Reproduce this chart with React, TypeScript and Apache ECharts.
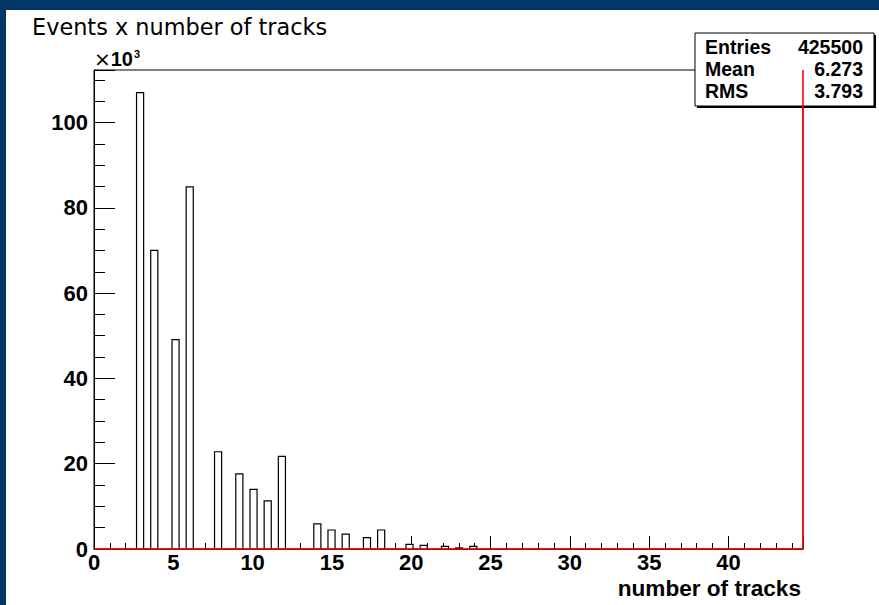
import React, { useEffect, useRef } from "react";
import * as echarts from "echarts";

// ---- data (events in units of 10^3) ----
const TRACKS = [3, 4, 5, 6, 8, 9, 10, 11, 12, 14, 15, 16, 17, 18, 20, 21, 22, 23, 24];
const EVENTS_K = [107, 70, 49.1, 84.9, 22.8, 17.6, 14.0, 11.3, 21.7, 5.9, 4.45, 3.5, 2.65, 4.45, 1.1, 0.85, 0.6, 0.25, 0.6];
const X_MAX = 44.7;
const Y_MAX = 112.3;
const N_BINS = 100;
const BIN_W = X_MAX / N_BINS;
const X_LABELS = [0, 5, 10, 15, 20, 25, 30, 35, 40];
const Y_LABELS = [0, 20, 40, 60, 80, 100];
const STATS_NAMES = ["Entries", "Mean", "RMS"];
const STATS_VALUES = ["425500", "6.273", "3.793"];

const TITLE = "Events x number of tracks";
const X_NAME = "number of tracks";

const BOLD = "Liberation Sans, Arial, sans-serif";

export default function App() {
  const ref = useRef<HTMLDivElement>(null);
  useEffect(() => {
    if (!ref.current) return;
    const chart = echarts.init(ref.current, null, { renderer: "svg" });
    const barData = TRACKS.map((t, i) => [t, EVENTS_K[i]]);

    const statsX = 689;
    const statsY = 23;
    const statsW = 179;
    const statsH = 73;
    const rowY = [14, 36, 58];

    const statsChildren: any[] = [
      { type: "rect", shape: { x: statsX + 2, y: statsY + 2, width: statsW, height: statsH }, style: { fill: "#000" } },
      { type: "rect", shape: { x: statsX, y: statsY, width: statsW, height: statsH }, style: { fill: "#fff", stroke: "#000", lineWidth: 1 } },
    ];
    STATS_NAMES.forEach((n, i) => {
      statsChildren.push({
        type: "text",
        x: statsX + 10,
        y: statsY + rowY[i],
        style: { text: n, fontFamily: BOLD, fontWeight: "bold", fontSize: 19.5, fill: "#000", align: "left", verticalAlign: "middle" },
      });
      statsChildren.push({
        type: "text",
        x: statsX + statsW - 11,
        y: statsY + rowY[i],
        style: { text: STATS_VALUES[i], fontFamily: BOLD, fontWeight: "bold", fontSize: 19.5, fill: "#000", align: "right", verticalAlign: "middle" },
      });
    });

    const labelStyle = { fontFamily: BOLD, fontWeight: "bold" as const, fontSize: 22, color: "#000" };

    chart.setOption({
      animation: false,
      backgroundColor: "#fff",
      title: {
        text: TITLE,
        left: 26,
        top: 6,
        padding: 0,
        textStyle: { fontFamily: "DejaVu Sans", fontSize: 22.4, fontWeight: "normal", color: "#000" },
      },
      grid: { left: 88, right: 76, top: 60, bottom: 56, show: true, borderColor: "#000", borderWidth: 1, backgroundColor: "transparent" },
      xAxis: [
        {
          type: "value",
          min: 0,
          max: X_MAX,
          interval: 1,
          position: "bottom",
          axisLine: { show: true, lineStyle: { color: "#000", width: 1 } },
          axisTick: { show: true, inside: true, length: 6, lineStyle: { color: "#000", width: 1 } },
          axisLabel: {
            ...labelStyle,
            margin: 2,
            showMaxLabel: false,
            formatter: (v: number) => (X_LABELS.indexOf(v) >= 0 ? String(v) : ""),
          },
          splitLine: { show: false },
          name: X_NAME,
          nameLocation: "end",
          nameGap: -2,
          nameTextStyle: { fontFamily: BOLD, fontWeight: "bold", fontSize: 22.6, color: "#000", align: "right", verticalAlign: "top", padding: [28, 0, 0, 0] },
        },
        {
          type: "value",
          min: 0,
          max: X_MAX,
          interval: 5,
          position: "bottom",
          axisLine: { show: false },
          axisTick: { show: true, inside: true, length: 13, lineStyle: { color: "#000", width: 1 } },
          axisLabel: { show: false },
          splitLine: { show: false },
        },
      ],
      yAxis: [
        {
          type: "value",
          min: 0,
          max: Y_MAX,
          interval: 5,
          position: "left",
          axisLine: { show: true, lineStyle: { color: "#000", width: 1 } },
          axisTick: { show: true, inside: true, length: 11, lineStyle: { color: "#000", width: 1 } },
          axisLabel: {
            ...labelStyle,
            margin: 6,
            showMaxLabel: false,
            formatter: (v: number) => (Y_LABELS.indexOf(v) >= 0 ? String(v) : ""),
          },
          splitLine: { show: false },
          name: "{x|×}{b|10}{s|3}",
          nameLocation: "end",
          nameGap: 1,
          nameTextStyle: {
            align: "left",
            verticalAlign: "bottom",
            rich: {
              x: { fontFamily: "DejaVu Sans", fontSize: 20, color: "#000" },
              b: { fontFamily: BOLD, fontWeight: "bold", fontSize: 20, color: "#000" },
              s: { fontFamily: BOLD, fontWeight: "bold", fontSize: 11, color: "#000", padding: [0, 0, 10, 1] },
            },
          },
        },
        {
          type: "value",
          min: 0,
          max: Y_MAX,
          interval: 20,
          position: "left",
          axisLine: { show: false },
          axisTick: { show: true, inside: true, length: 21, lineStyle: { color: "#000", width: 1 } },
          axisLabel: { show: false },
          splitLine: { show: false },
        },
      ],
      series: [
        {
          type: "custom",
          xAxisIndex: 0,
          yAxisIndex: 0,
          data: barData,
          z: 2,
          renderItem: (params: any, api: any) => {
            const v = api.value(0);
            const c = api.value(1);
            const lo = Math.floor(v / BIN_W) * BIN_W;
            const hi = lo + BIN_W;
            const p0 = api.coord([lo, 0]);
            const p1 = api.coord([hi, c]);
            return {
              type: "rect",
              shape: { x: p0[0], y: p1[1], width: p1[0] - p0[0], height: p0[1] - p1[1] },
              style: { fill: "#fff", stroke: "#000", lineWidth: 1.2 },
            };
          },
        },
        {
          type: "line",
          xAxisIndex: 0,
          yAxisIndex: 0,
          data: [[0, 0], [X_MAX, 0], [X_MAX, Y_MAX]],
          symbol: "none",
          clip: false,
          z: 5,
          lineStyle: { color: "#ff0000", width: 1.6 },
          silent: true,
        },
      ],
      graphic: [{ type: "group", z: 100, children: statsChildren }],
    });
    return () => chart.dispose();
  }, []);

  return (
    <div style={{ position: "fixed", left: 0, top: 0, width: 879, height: 605, background: "#023669" }}>
      <div ref={ref} style={{ position: "absolute", left: 6, top: 10, width: 873, height: 595, background: "#fff" }} />
    </div>
  );
}
